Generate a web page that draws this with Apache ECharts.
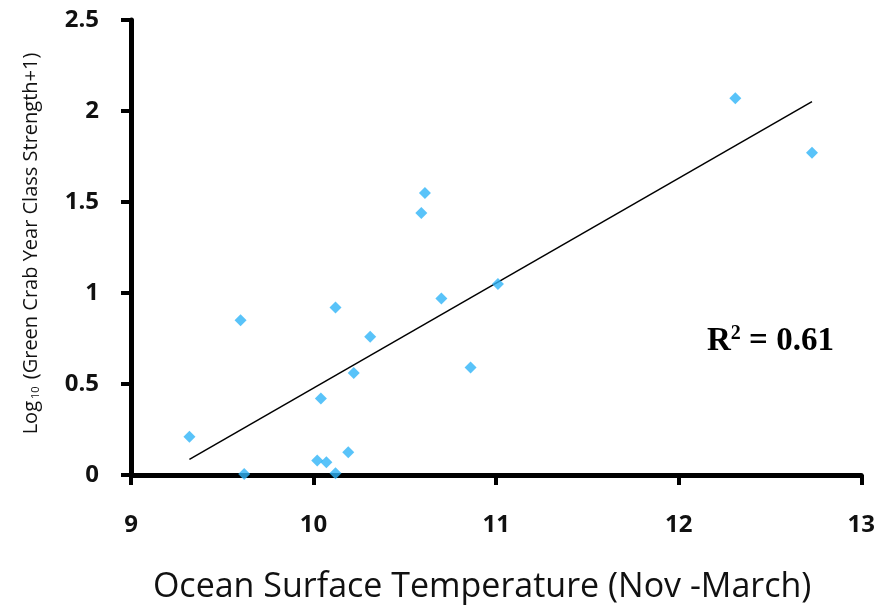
<!DOCTYPE html>
<html>
<head>
<meta charset="utf-8">
<script src="https://cdn.jsdelivr.net/npm/echarts@6/dist/echarts.min.js"></script>
<style>
  html, body { margin: 0; padding: 0; background: #fff; }
  #chart_1 { width: 878px; height: 610px; }
</style>
</head>
<body>
<div id="chart_1"></div>
<script>
// 水温 (x) 和 log10(年级强度+1) (y)
var temps = [9.32, 9.60, 9.62, 10.02, 10.04, 10.07, 10.12, 10.12, 10.19, 10.22, 10.31, 10.59, 10.61, 10.70, 10.86, 11.01, 12.31, 12.73];
var strength = [0.21, 0.85, 0.005, 0.08, 0.42, 0.07, 0.92, 0.01, 0.125, 0.56, 0.76, 1.44, 1.55, 0.97, 0.59, 1.05, 2.07, 1.77];
// 趋势线两端
var trendX = [9.32, 12.73];
var trendY = [0.086, 2.051];
var xTicks = [9, 10, 11, 12, 13];
var yTicks = [0, 0.5, 1, 1.5, 2, 2.5];
var r2Text = '0.61';

(function () {
    var myChart = echarts.init(document.getElementById('chart_1'));

    var points = [];
    for (var i = 0; i < temps.length; i++) {
        points.push([temps[i], strength[i]]);
    }
    var trend = [[trendX[0], trendY[0]], [trendX[1], trendY[1]]];

    var option = {
        animation: false,
        backgroundColor: '#fff',
        grid: { left: 131, right: 16, top: 20, bottom: 135 },
        xAxis: {
            type: 'value',
            min: xTicks[0],
            max: xTicks[xTicks.length - 1],
            interval: 1,
            name: 'Ocean Surface Temperature (Nov -March)',
            nameLocation: 'middle',
            nameGap: 95,
            nameTextStyle: { fontFamily: 'Open Sans', fontSize: 34, color: '#111', padding: [0, 28, 0, 0] },
            axisLine: { lineStyle: { color: '#000', width: 5 } },
            axisTick: { inside: false, length: 10, lineStyle: { color: '#000', width: 4 } },
            axisLabel: { margin: 38, fontFamily: 'Open Sans', fontWeight: 'bold', fontSize: 24, color: '#111' },
            splitLine: { show: false }
        },
        yAxis: {
            type: 'value',
            min: yTicks[0],
            max: yTicks[yTicks.length - 1],
            interval: 0.5,
            name: '{a|Log}{s|10}{a| (Green Crab Year Class Strength+1)}',
            nameLocation: 'middle',
            nameGap: 90,
            nameRotate: 90,
            nameTextStyle: {
                fontFamily: 'Open Sans',
                fontSize: 20,
                color: '#111',
                padding: [0, 0, 0, 8],
                rich: {
                    a: { fontFamily: 'Open Sans', fontSize: 20, color: '#111' },
                    s: { fontFamily: 'Open Sans', fontSize: 11, color: '#111', padding: [9, 2, 0, 2] }
                }
            },
            axisLine: { show: true, lineStyle: { color: '#000', width: 5 } },
            axisTick: { show: true, inside: false, length: 10, lineStyle: { color: '#000', width: 4 } },
            axisLabel: {
                margin: 32, fontFamily: 'Open Sans', fontWeight: 'bold', fontSize: 24, color: '#111',
                formatter: function (v) { return String(v); }
            },
            splitLine: { show: false }
        },
        graphic: [{
            type: 'text',
            left: 707,
            top: 324,
            style: {
                text: '{r|R}{p|2}{r| = ' + r2Text + '}',
                rich: {
                    r: { fontFamily: 'Liberation Serif', fontWeight: 'bold', fontSize: 33, fill: '#000' },
                    p: { fontFamily: 'Liberation Serif', fontWeight: 'bold', fontSize: 20, fill: '#000', padding: [0, 0, 14, 0] }
                }
            }
        }],
        series: [
            {
                type: 'line',
                data: trend,
                symbol: 'none',
                lineStyle: { color: '#000', width: 1.5 },
                z: 2
            },
            {
                type: 'scatter',
                data: points,
                symbol: 'diamond',
                symbolSize: 12,
                itemStyle: { color: '#30b4f8' },
                z: 3
            }
        ]
    };

    myChart.setOption(option);
    window.addEventListener('resize', function () {
        myChart.resize();
    });
})();
</script>
</body>
</html>
